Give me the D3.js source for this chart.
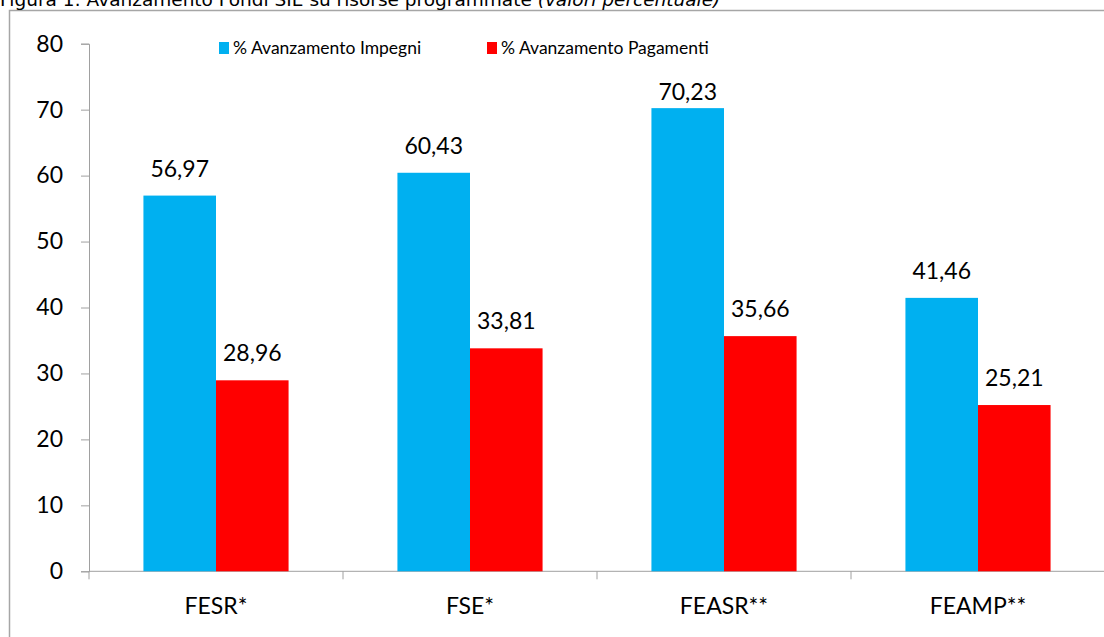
<!DOCTYPE html>
<html>
<head>
    <meta charset="utf-8">
    <title>Avanzamento Fondi SIE</title>
    <script src="https://d3js.org/d3.v7.min.js"></script>
    <style>
        body { margin: 0; background: #fff; }
        svg text { font-family: Lato, 'Liberation Sans', sans-serif; fill: #000; }
    </style>
</head>
<body>
    <div id="chart"></div>
    <script>
        const fondi = ['FESR*', 'FSE*', 'FEASR**', 'FEAMP**']
        const serie = ['% Avanzamento Impegni', '% Avanzamento Pagamenti']
        const impegni = [56.97, 60.43, 70.23, 41.46]
        const pagamenti = [28.96, 33.81, 35.66, 25.21]
        const yTicks = [0, 10, 20, 30, 40, 50, 60, 70, 80]
        const colori = ['#00B0F0', '#FF0000']

        const w = 1104, h = 637
        const plot = { left: 89, right: 1105, top: 43.7, bottom: 571.3 }
        const fmt = d3.formatLocale({ decimal: ',', thousands: '.', grouping: [3], currency: ['', ''] }).format('.2f')

        const svg = d3.select('#chart').append('svg')
            .attr('width', w)
            .attr('height', h)

        // cornice del grafico (esce dal bordo destro e inferiore)
        svg.append('rect')
            .attr('x', 9.5).attr('y', 10.5)
            .attr('width', w + 20).attr('height', h + 20)
            .style('fill', 'none')
            .style('stroke', '#a6a6a6')
            .style('stroke-width', 1.5)

        // titolo tagliato in alto come nell'originale
        const title = svg.append('text')
            .attr('x', 0).attr('y', 6)
            .style('font-family', "'DejaVu Sans', Verdana, sans-serif")
            .style('font-size', '18.5px')
        title.append('tspan').text('Figura 1: Avanzamento Fondi SIE su risorse programmate ')
        title.append('tspan').style('font-style', 'italic').text('(valori percentuale)')

        const x = d3.scaleBand().domain(fondi).range([plot.left, plot.right])
        // gap width 150% come in Excel
        const bw = x.bandwidth() / 3.5
        const xs = d3.scaleBand().domain(serie).range([bw * 0.75, bw * 2.75])
        const y = d3.scaleLinear().domain([0, 80]).range([plot.bottom, plot.top])

        const yAxis = d3.axisLeft(y).tickValues(yTicks).tickSize(8).tickPadding(18)
        const gy = svg.append('g')
            .attr('transform', 'translate(' + plot.left + ',0)')
            .call(yAxis)
        gy.select('.domain').attr('stroke', '#a0a0a0')
        gy.selectAll('.tick line').attr('stroke', '#a0a0a0')
        gy.selectAll('.tick text').style('font-size', '23px')

        // asse x: separatori tra le categorie
        const sep = fondi.map(f => x(f)).concat([plot.right])
        svg.append('line')
            .attr('x1', plot.left).attr('x2', w)
            .attr('y1', plot.bottom).attr('y2', plot.bottom)
            .attr('stroke', '#a0a0a0')
        svg.selectAll('line.sep')
            .data(sep)
            .enter()
            .append('line')
            .attr('class', 'sep')
            .attr('x1', d => d).attr('x2', d => d)
            .attr('y1', plot.bottom).attr('y2', plot.bottom + 8)
            .attr('stroke', '#a0a0a0')

        svg.selectAll('text.cat')
            .data(fondi)
            .enter()
            .append('text')
            .attr('class', 'cat')
            .attr('x', d => x(d) + x.bandwidth() / 2)
            .attr('y', 614)
            .attr('text-anchor', 'middle')
            .style('font-size', '23px')
            .text(d => d)

        const dati = []
        fondi.forEach((f, i) => {
            dati.push({ fondo: f, serie: serie[0], v: impegni[i], c: colori[0] })
            dati.push({ fondo: f, serie: serie[1], v: pagamenti[i], c: colori[1] })
        })

        svg.selectAll('rect.bar')
            .data(dati)
            .enter()
            .append('rect')
            .attr('class', 'bar')
            .attr('x', d => x(d.fondo) + xs(d.serie))
            .attr('width', xs.bandwidth())
            .attr('y', d => y(d.v))
            .attr('height', d => y(0) - y(d.v))
            .style('fill', d => d.c)

        svg.selectAll('text.val')
            .data(dati)
            .enter()
            .append('text')
            .attr('class', 'val')
            .attr('x', d => x(d.fondo) + xs(d.serie) + xs.bandwidth() / 2)
            .attr('y', d => y(d.v) - (d.v > 65 ? 8 : 19))
            .attr('text-anchor', 'middle')
            .style('font-size', '23px')
            .text(d => fmt(d.v))

        // legenda
        const lx = [219, 487]
        const legend = svg.append('g')
        serie.forEach((s, i) => {
            legend.append('rect')
                .attr('x', lx[i]).attr('y', 42)
                .attr('width', 10).attr('height', 12)
                .style('fill', colori[i])
            legend.append('text')
                .attr('x', lx[i] + 14).attr('y', 54)
                .style('font-size', '17.5px')
                .text(s)
        })
    </script>
</body>
</html>
